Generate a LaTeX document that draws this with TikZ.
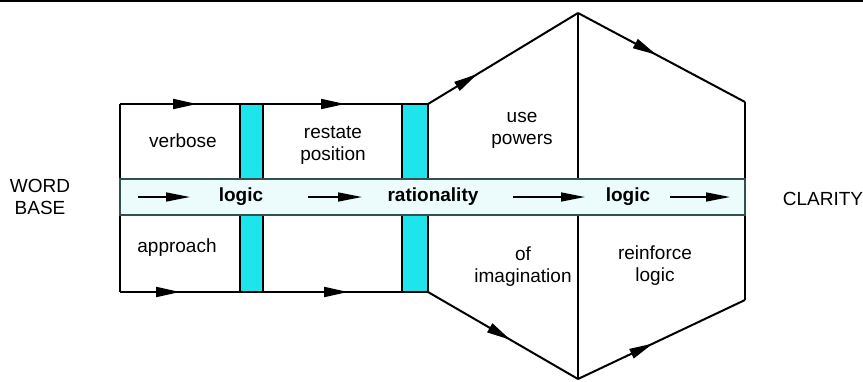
\documentclass[tikz,border=0pt]{standalone}
\usepackage{fontspec}
\setmainfont{Liberation Sans}
\usetikzlibrary{arrows.meta, decorations.markings}
\definecolor{bar-cyan}{RGB}{30,228,236}
\definecolor{band-cyan}{RGB}{236,252,252}
\definecolor{band-edge}{RGB}{50,80,80}

\tikzset{
  outline/.style={line width=2pt, line join=miter},
  midarrow/.style={postaction={decorate, decoration={markings, mark=at position #1 with {\arrow{Triangle[length=24pt,width=10pt]}}}}},
  twoarrows/.style 2 args={postaction={decorate, decoration={markings,
      mark=at position #1 with {\arrow{Triangle[length=24pt,width=10pt]}},
      mark=at position #2 with {\arrow{Triangle[length=24pt,width=10pt]}}}}},
  bar/.style={fill=bar-cyan, draw=black, line width=1.6pt},
  band/.style={fill=band-cyan, draw=band-edge, line width=1.1pt},
  flow/.style={line width=1.6pt, -{Triangle[length=24pt,width=9pt]}},
  lbl/.style={font=\fontsize{19}{22}\selectfont, align=center, inner sep=0pt},
  key/.style={font=\fontsize{19}{22}\selectfont\bfseries, inner sep=0pt}
}

\begin{document}
\begin{tikzpicture}[x=1pt, y=-1pt]
  \useasboundingbox (0,0) rectangle (863,381);
  \draw[line width=2pt] (0,1) -- (863,1);

  % corners
  \coordinate (tl) at (120,104);
  \coordinate (bl) at (120,292);
  \coordinate (gt) at (428,104);
  \coordinate (gb) at (428,292);
  \coordinate (apex) at (578,13);
  \coordinate (base) at (578,379);
  \coordinate (rt) at (745,102);
  \coordinate (rb) at (745,300);

  % left part
  \draw[outline] (tl) -- (bl);
  \draw[outline, twoarrows={77pt}{225pt}] (tl) -- (gt);
  \draw[outline, twoarrows={60pt}{228pt}] (bl) -- (gb);

  % cyan bars
  \draw[bar] (240,104) rectangle (263,292);
  \draw[bar] (402,104) rectangle (428,292);

  % hexagon
  \draw[outline, midarrow=0.33] (gt) -- (apex);
  \draw[outline, midarrow=0.47] (apex) -- (rt);
  \draw[outline] (rt) -- (rb);
  \draw[outline, midarrow=0.55] (gb) -- (base);
  \draw[outline, midarrow=0.45] (base) -- (rb);
  \draw[outline] (apex) -- (base);

  % band
  \draw[band] (120,179) rectangle (745,215);
  \coordinate (a1) at (138,197); \coordinate (a2) at (190,197);
  \coordinate (b1) at (308,197); \coordinate (b2) at (362,197);
  \coordinate (c1) at (513,197); \coordinate (c2) at (585,197);
  \coordinate (d1) at (670,197); \coordinate (d2) at (730,197);
  \draw[flow] (a1) -- (a2);
  \draw[flow] (b1) -- (b2);
  \draw[flow] (c1) -- (c2);
  \draw[flow] (d1) -- (d2);
  \node[key] (logicA) at (241,197) {logic};
  \node[key] (ratio) at (433,197) {rationality};
  \node[key] (logicB) at (628,197) {logic};

  % labels
  \node[lbl] (verbose) at (183,141) {verbose};
  \node[lbl] (restate) at (333,145) {restate\\position};
  \node[lbl] (approach) at (177,248) {approach};
  \node[lbl] (powers) at (522,130) {use\\powers};
  \node[lbl] (imagin) at (523,267) {of\\imagination};
  \node[lbl] (reinforce) at (655,266) {reinforce\\logic};
  \node[lbl] (word) at (40,197) {WORD\\BASE};
  \node[lbl] (clarity) at (823,199) {CLARITY};
\end{tikzpicture}
\end{document}
